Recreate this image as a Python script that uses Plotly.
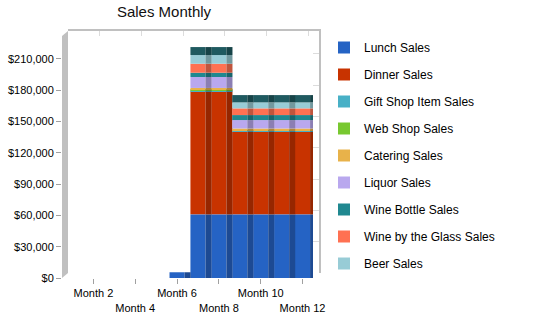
import plotly.graph_objects as go
import numpy as np

month_labels = ["Month 1", "Month 2", "Month 3", "Month 4", "Month 5", "Month 6",
                "Month 7", "Month 8", "Month 9", "Month 10", "Month 11", "Month 12"]

lunch = [0, 0, 0, 0, 0, 5500, 61000, 61000, 61000, 61000, 61000, 61000]
dinner = [0, 0, 0, 0, 0, 0, 118000, 118000, 79200, 79200, 79200, 79200]
gift_shop = [0, 0, 0, 0, 0, 0, 800, 800, 900, 900, 900, 900]
web_shop = [0, 0, 0, 0, 0, 0, 500, 500, 600, 600, 600, 600]
catering = [0, 0, 0, 0, 0, 0, 1900, 1900, 1600, 1600, 1600, 1600]
liquor = [0, 0, 0, 0, 0, 0, 10500, 10500, 8100, 8100, 8100, 8100]
wine_bottle = [0, 0, 0, 0, 0, 0, 4100, 4100, 4800, 4800, 4800, 4800]
wine_glass = [0, 0, 0, 0, 0, 0, 8600, 8600, 6400, 6400, 6400, 6400]
beer = [0, 0, 0, 0, 0, 0, 8350, 8350, 5750, 5750, 5750, 5750]
other = [0, 0, 0, 0, 0, 0, 7650, 7650, 7000, 7000, 7000, 7000]

series_names = ["Lunch Sales", "Dinner Sales", "Gift Shop Item Sales", "Web Shop Sales",
                "Catering Sales", "Liquor Sales", "Wine Bottle Sales",
                "Wine by the Glass Sales", "Beer Sales", "Other Sales"]
series_values = [lunch, dinner, gift_shop, web_shop, catering, liquor, wine_bottle,
                 wine_glass, beer, other]
front_colors = ["#2563C4", "#C83300", "#48B0C6", "#78C830", "#E8B24A", "#B9A8EE",
                "#208890", "#FF7152", "#98CCD6", "#1F5A60"]
side_colors = ["#1D4A93", "#962600", "#36849A", "#5A9624", "#AE8538", "#8B7EB3",
                "#18666C", "#C0553D", "#72999F", "#174448"]
show_legend = [True] * 9 + [False]

y_ticks = [0, 30000, 60000, 90000, 120000, 150000, 180000, 210000]
y_ticktext = ["$0", "$30,000", "$60,000", "$90,000", "$120,000", "$150,000",
              "$180,000", "$210,000"]
x_tick_months = ["Month 2", "Month 4", "Month 6", "Month 8", "Month 10", "Month 12"]
x_ticktext = ["Month 2", "<br>Month 4", "Month 6", "<br>Month 8", "Month 10", "<br>Month 12"]

Y_MAX = 232000

W, H = 550, 318
L, R, T, B = 62, 231, 12, 20
pw, ph = W - L - R, H - T - B


def px_x(p):
    return (p - L) / pw


def px_y(p):
    return (H - B - p) / ph


# front plane and back wall in pixels
FX0, FX1, FY0, FY1 = 62, 313, 278, 36   # left, right, bottom, top
BX0, BX1, BY0, BY1 = 68, 319, 273, 31

fig = go.Figure()
fig.add_trace(go.Scatter(x=[], y=[], xaxis="x", yaxis="y", showlegend=False, hoverinfo="skip"))

base = np.zeros(len(month_labels))
for i, (name, vals) in enumerate(zip(series_names, series_values)):
    vals = np.array(vals, dtype=float)
    fig.add_trace(go.Bar(
        x=month_labels, y=vals, base=base.copy(), name=name,
        marker=dict(color=front_colors[i], line=dict(width=0)),
        width=0.72, offset=-0.36, xaxis="x2", yaxis="y2",
        showlegend=show_legend[i], legendgroup=name,
    ))
    fig.add_trace(go.Bar(
        x=month_labels, y=vals, base=base.copy(), name=name,
        marker=dict(color=side_colors[i], line=dict(width=0)),
        width=0.29, offset=0.36, xaxis="x2", yaxis="y2",
        showlegend=False, legendgroup=name, hoverinfo="skip",
    ))
    base = base + vals

grid_col = "#DCDCDC"
fig.update_layout(
    width=W, height=H,
    margin=dict(l=L, r=R, t=T, b=B, pad=0, autoexpand=False),
    paper_bgcolor="white", plot_bgcolor="white",
    barmode="overlay",
    font=dict(family="Liberation Sans, Arial, sans-serif", size=11, color="#000000"),
    title=dict(text="Sales Monthly", x=px_x(164), xref="paper", xanchor="center",
               y=1 - 12 / H, yanchor="middle",
               font=dict(size=15, color="#111111")),
    xaxis=dict(domain=[px_x(BX0), px_x(BX1)], range=[0.5, 12.5], tickvals=[2, 4, 6, 8, 10, 12],
               showticklabels=False, ticks="", showgrid=True, gridcolor=grid_col,
               gridwidth=1, zeroline=False, showline=True, linecolor="#C0C0C0",
               linewidth=2, side="top", anchor="y", fixedrange=True, automargin=False),
    yaxis=dict(domain=[px_y(BY0), px_y(BY1)], range=[0, Y_MAX], tickvals=y_ticks[1:],
               showticklabels=False, ticks="", showgrid=True, gridcolor=grid_col,
               gridwidth=1, zeroline=False, showline=True, linecolor="#C0C0C0",
               linewidth=2, side="right", anchor="x", fixedrange=True, automargin=False),
    xaxis2=dict(domain=[px_x(FX0), px_x(FX1)], range=[-0.5, 11.5], type="category",
                categoryorder="array", categoryarray=month_labels,
                tickvals=x_tick_months, ticktext=x_ticktext, tickangle=0,
                ticks="outside", ticklen=5, tickcolor="#A0A0A0", tickwidth=1,
                showgrid=False, zeroline=False, showline=False, anchor="y2",
                tickfont=dict(size=11), fixedrange=True, automargin=False),
    yaxis2=dict(domain=[px_y(FY0), px_y(FY1)], range=[0, Y_MAX], tickvals=y_ticks,
                ticktext=y_ticktext, ticks="outside", ticklen=5, tickcolor="#A0A0A0",
                tickwidth=1, showgrid=False, zeroline=False, showline=False,
                anchor="x2", tickfont=dict(size=11), fixedrange=True, automargin=False),
    legend=dict(x=px_x(324), y=px_y(33), xanchor="left", yanchor="top",
                traceorder="grouped", tracegroupgap=8, font=dict(size=12, color="#000000"),
                bgcolor="rgba(0,0,0,0)", borderwidth=0),
    showlegend=True,
    shapes=[
        dict(type="path", xref="paper", yref="paper",
             path=(f"M {px_x(FX0)},{px_y(FY0)} L {px_x(FX0)},{px_y(FY1)} "
                   f"L {px_x(BX0)},{px_y(BY1)} L {px_x(BX0)},{px_y(BY0)} Z"),
             fillcolor="#C0C0C0", line=dict(width=0), layer="above"),
    ],
)

fig.write_html("out.html")
